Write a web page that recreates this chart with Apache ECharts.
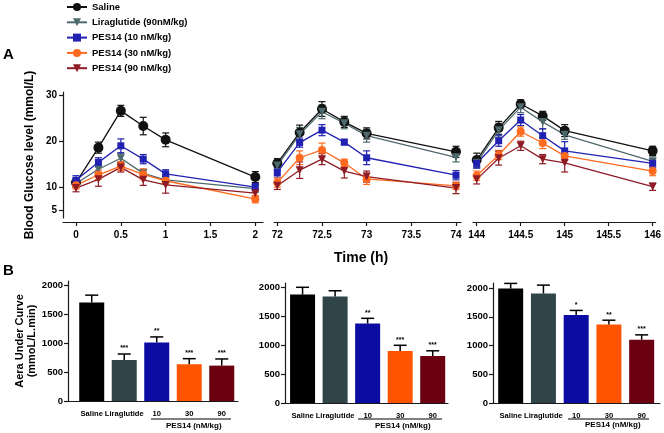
<!DOCTYPE html>
<html>
<head>
<meta charset="UTF-8">
<title>Blood glucose / AUC</title>
<script type="text/javascript" src="https://cdn.jsdelivr.net/npm/echarts/dist/echarts.min.js"></script>
<style>
  html, body { margin: 0; padding: 0; background: #fff; }
</style>
</head>
<body>
<div id="main" style="width: 664px; height: 433px;"></div>
<script type="text/javascript">
// ---- panel A data (blood glucose, mmol/L) ----
var groupNames = ['Saline', 'Liraglutide (90nM/kg)', 'PES14 (10 nM/kg)', 'PES14 (30 nM/kg)', 'PES14 (90 nM/kg)'];
var times1 = [0, 0.25, 0.5, 0.75, 1, 2];
var times2 = [72, 72.25, 72.5, 72.75, 73, 74];
var times3 = [144, 144.25, 144.5, 144.75, 145, 146];

var saline1 = [11.1, 18.7, 26.7, 23.4, 20.4, 12.3];
var saline2 = [15.3, 22.0, 27.1, 24.3, 21.8, 17.8];
var saline3 = [16.0, 23.0, 28.2, 25.6, 22.4, 18.0];
var lira1 = [10.9, 14.0, 16.4, 13.1, 11.7, 9.8];
var lira2 = [14.8, 21.6, 26.5, 24.0, 21.3, 16.6];
var lira3 = [15.4, 22.5, 27.5, 24.3, 21.5, 15.7];
var pes10_1 = [11.6, 15.5, 19.1, 16.2, 13.0, 10.1];
var pes10_2 = [13.3, 19.8, 22.5, 19.9, 16.5, 12.7];
var pes10_3 = [15.3, 20.2, 24.7, 21.3, 18.0, 15.3];
var pes30_1 = [10.5, 12.8, 14.7, 12.9, 11.5, 7.5];
var pes30_2 = [11.1, 16.5, 18.2, 15.4, 11.9, 10.4];
var pes30_3 = [12.6, 17.1, 22.2, 19.7, 16.9, 13.6];
var pes90_1 = [9.9, 11.8, 14.4, 11.7, 10.6, 8.8];
var pes90_2 = [10.4, 13.8, 16.2, 13.6, 12.4, 9.9];
var pes90_3 = [11.8, 16.4, 19.1, 16.2, 15.4, 10.2];

// SEM
var salineErr1 = [1.0, 1.2, 1.2, 1.9, 1.5, 1.2];
var salineErr2 = [1.0, 1.6, 1.6, 1.2, 1.2, 1.2];
var salineErr3 = [1.5, 1.4, 0.9, 1.0, 1.3, 1.0];
var liraErr1 = [0.8, 1.0, 1.0, 0.8, 0.8, 0.8];
var liraErr2 = [1.0, 1.5, 1.5, 1.2, 1.4, 1.0];
var liraErr3 = [1.2, 1.5, 1.2, 1.5, 1.0, 1.0];
var pes10Err1 = [1.0, 1.0, 1.5, 1.0, 0.9, 0.8];
var pes10Err2 = [1.0, 1.0, 1.2, 0.6, 1.5, 1.0];
var pes10Err3 = [1.0, 1.2, 1.2, 1.5, 2.0, 1.0];
var pes30Err1 = [0.8, 1.0, 1.0, 1.2, 0.8, 0.8];
var pes30Err2 = [1.0, 1.5, 1.5, 0.8, 1.2, 0.8];
var pes30Err3 = [1.0, 1.0, 1.0, 1.2, 1.0, 1.0];
var pes90Err1 = [0.8, 1.5, 1.0, 1.2, 1.8, 0.8];
var pes90Err2 = [0.8, 1.8, 1.2, 1.5, 1.2, 1.2];
var pes90Err3 = [1.0, 1.5, 1.0, 1.0, 2.0, 0.8];

var glucoseTicks = [5, 10, 20, 30];
var timeTicks1 = [0, 0.5, 1, 1.5, 2];
var timeTicks2 = [72, 72.5, 73, 73.5, 74];
var timeTicks3 = [144, 144.5, 145, 145.5, 146];

// ---- panel B data (AUC) ----
var barCategories = ['Saline', 'Liraglutide', '10', '30', '90'];
var auc1 = [1700, 705, 1010, 635, 610];
var auc2 = [1870, 1835, 1370, 895, 810];
var auc3 = [1990, 1905, 1530, 1365, 1100];
var aucErr1 = [125, 105, 95, 95, 115];
var aucErr2 = [125, 100, 90, 100, 90];
var aucErr3 = [90, 145, 80, 75, 85];
var aucSig1 = ['', '***', '**', '***', '***'];
var aucSig2 = ['', '', '**', '***', '***'];
var aucSig3 = ['', '', '*', '**', '***'];
var aucTicks = [0, 500, 1000, 1500, 2000];

var lineColors = ['#111111', '#4e696c', '#2222b2', '#ff6a1f', '#8e1b25'];
var lineSymbols = ['circle', 'triangle', 'rect', 'circle', 'triangle'];
var symbolRotates = [0, 180, 0, 0, 180];
var symbolSizes = [10, 8, 7, 8, 8];
var barColors = ['#000000', '#2f4549', '#0c0ca2', '#ff5500', '#6b0010'];

var FONT = 'Arial, "Liberation Sans", sans-serif';
var AX = '#1a1a1a';

var myChart = echarts.init(document.getElementById('main'));

var segTimes = [times1, times2, times3];
var segValues = [
    [saline1, lira1, pes10_1, pes30_1, pes90_1],
    [saline2, lira2, pes10_2, pes30_2, pes90_2],
    [saline3, lira3, pes10_3, pes30_3, pes90_3]
];
var segErrors = [
    [salineErr1, liraErr1, pes10Err1, pes30Err1, pes90Err1],
    [salineErr2, liraErr2, pes10Err2, pes30Err2, pes90Err2],
    [salineErr3, liraErr3, pes10Err3, pes30Err3, pes90Err3]
];

function glucoseErrRender(color) {
    return function (params, api) {
        var x = api.value(0), y = api.value(1), e = api.value(2);
        var hi = api.coord([x, y + e]);
        var lo = api.coord([x, y - e]);
        var w = 3.5;
        var st = { stroke: color, lineWidth: 1.2 };
        return {
            type: 'group',
            children: [
                { type: 'line', shape: { x1: hi[0], y1: hi[1], x2: lo[0], y2: lo[1] }, style: st },
                { type: 'line', shape: { x1: hi[0] - w, y1: hi[1], x2: hi[0] + w, y2: hi[1] }, style: st },
                { type: 'line', shape: { x1: lo[0] - w, y1: lo[1], x2: lo[0] + w, y2: lo[1] }, style: st }
            ]
        };
    };
}

function aucErrRender(sig) {
    return function (params, api) {
        var x = api.value(0), y = api.value(1), e = api.value(2);
        var base = api.coord([x, y]);
        var hi = api.coord([x, y + e]);
        var w = 6.5;
        var st = { stroke: '#000', lineWidth: 1.5 };
        return {
            type: 'group',
            children: [
                { type: 'line', shape: { x1: base[0], y1: base[1], x2: hi[0], y2: hi[1] }, style: st },
                { type: 'line', shape: { x1: hi[0] - w, y1: hi[1], x2: hi[0] + w, y2: hi[1] }, style: st },
                { type: 'text', x: hi[0], y: hi[1] - 2, style: {
                    text: sig[params.dataIndex], align: 'center', verticalAlign: 'bottom',
                    font: 'bold 7px ' + FONT, fill: '#000' } }
            ]
        };
    };
}

var series = [];
var errSeries = [];
for (var s = 0; s < 3; s++) {
    for (var g = 0; g < 5; g++) {
        var pts = segTimes[s].map(function (t, i) { return [t, segValues[s][g][i]]; });
        var errPts = segTimes[s].map(function (t, i) { return [t, segValues[s][g][i], segErrors[s][g][i]]; });
        series.push({
            name: groupNames[g], type: 'line', xAxisIndex: s, yAxisIndex: s,
            data: pts, symbol: lineSymbols[g], symbolSize: symbolSizes[g], symbolRotate: symbolRotates[g],
            lineStyle: { color: lineColors[g], width: 1.3 },
            itemStyle: { color: lineColors[g] },
            z: 4, animation: false
        });
        errSeries.push({
            name: groupNames[g], type: 'custom', xAxisIndex: s, yAxisIndex: s,
            data: errPts, renderItem: glucoseErrRender(lineColors[g]),
            itemStyle: { color: lineColors[g] }, z: 3, animation: false
        });
    }
}
series = series.concat(errSeries);

var aucSets = [[auc1, aucErr1, aucSig1], [auc2, aucErr2, aucSig2], [auc3, aucErr3, aucSig3]];
aucSets.forEach(function (set, k) {
    series.push({
        type: 'bar', xAxisIndex: 3 + k, yAxisIndex: 3 + k, barWidth: 25,
        data: set[0].map(function (v, i) { return { value: [i, v], itemStyle: { color: barColors[i] } }; }),
        animation: false
    });
    series.push({
        type: 'custom', xAxisIndex: 3 + k, yAxisIndex: 3 + k,
        data: set[0].map(function (v, i) { return [i, v, set[1][i]]; }),
        renderItem: aucErrRender(set[2]), z: 5, animation: false
    });
});

// common axis pieces
function timeAxis(idx, min, max, ticks) {
    return {
        type: 'value', gridIndex: idx, min: min, max: max, offset: 4,
        axisLine: { show: true, onZero: false, lineStyle: { color: AX, width: 1.2 } },
        axisTick: { show: true, length: 4, customValues: ticks, lineStyle: { color: AX, width: 1.2 } },
        axisLabel: { customValues: ticks, color: '#000', fontWeight: 'bold', fontSize: 10, fontFamily: FONT, margin: 8 },
        splitLine: { show: false }
    };
}
function glucoseAxis(idx, show) {
    var ax = {
        type: 'value', gridIndex: idx, min: 3.4, max: 30.8, show: show,
        axisLine: { show: true, onZero: false, lineStyle: { color: AX, width: 1.2 } },
        axisTick: { show: true, length: 4, customValues: glucoseTicks, lineStyle: { color: AX, width: 1.2 } },
        axisLabel: { customValues: glucoseTicks, color: '#000', fontWeight: 'bold', fontSize: 10, fontFamily: FONT, margin: 6 },
        splitLine: { show: false }
    };
    if (show) {
        ax.name = 'Blood Glucose level (mmol/L)';
        ax.nameLocation = 'middle';
        ax.nameGap = 27;
        ax.nameTextStyle = { color: '#000', fontWeight: 'bold', fontSize: 12, fontFamily: FONT };
    }
    return ax;
}
function groupAxis(idx, min, max) {
    return {
        type: 'value', gridIndex: idx, min: min, max: max,
        axisLine: { show: true, onZero: false, lineStyle: { color: AX, width: 1.2 } },
        axisTick: { show: false },
        axisLabel: {
            customValues: [0, 1, 2, 3, 4], color: '#000', fontWeight: 'bold', fontSize: 7.6, fontFamily: FONT, margin: 9,
            formatter: function (v) { return barCategories[Math.round(v)]; }
        },
        splitLine: { show: false }
    };
}
function aucAxis(idx, max, withName) {
    var ax = {
        type: 'value', gridIndex: idx, min: 0, max: max,
        axisLine: { show: true, onZero: false, lineStyle: { color: AX, width: 1.2 } },
        axisTick: { show: true, length: 4, customValues: aucTicks, lineStyle: { color: AX, width: 1.2 } },
        axisLabel: { customValues: aucTicks, color: '#000', fontWeight: 'bold', fontSize: 9.5, fontFamily: FONT, margin: 5,
            formatter: function (v) { return String(v); } },
        splitLine: { show: false }
    };
    if (withName) {
        ax.name = 'Aera Under Curve\n(mmoL/L.min)';
        ax.nameLocation = 'middle';
        ax.nameGap = 29;
        ax.nameTextStyle = { color: '#000', fontWeight: 'bold', fontSize: 11, lineHeight: 12, fontFamily: FONT };
    }
    return ax;
}

myChart.setOption({
    animation: false,
    legend: {
        data: groupNames, orient: 'vertical', left: 66, top: 2, padding: 0,
        itemWidth: 20, itemHeight: 10, itemGap: 5.3,
        textStyle: { color: '#000', fontWeight: 'bold', fontSize: 9.5, fontFamily: FONT }
    },
    grid: [
        { left: 63, top: 92, width: 200, height: 126 },
        { left: 274, top: 92, width: 187, height: 126 },
        { left: 473, top: 92, width: 185, height: 126 },
        { left: 68, top: 281, width: 170, height: 120 },
        { left: 285, top: 283, width: 163, height: 120 },
        { left: 493, top: 283, width: 167, height: 120 }
    ],
    xAxis: [
        timeAxis(0, -0.145, 2.086, timeTicks1),
        timeAxis(1, 71.963, 74.056, timeTicks2),
        timeAxis(2, 143.958, 146.034, timeTicks3),
        groupAxis(3, -0.73, 4.5),
        groupAxis(4, -0.54, 4.47),
        groupAxis(5, -0.54, 4.56)
    ],
    yAxis: [
        glucoseAxis(0, true),
        glucoseAxis(1, false),
        glucoseAxis(2, false),
        aucAxis(3, 2069, true),
        aucAxis(4, 2069, false),
        aucAxis(5, 2087, false)
    ],
    graphic: [
        { type: 'text', left: 3, top: 47, style: { text: 'A', font: 'bold 15px ' + FONT, fill: '#000' } },
        { type: 'text', left: 3, top: 263, style: { text: 'B', font: 'bold 15px ' + FONT, fill: '#000' } },
        { type: 'text', left: 334, top: 251, style: { text: 'Time (h)', font: 'bold 14px ' + FONT, fill: '#000' } },
        { type: 'line', shape: { x1: 151, y1: 419, x2: 231, y2: 419 }, style: { stroke: '#000', lineWidth: 1 } },
        { type: 'line', shape: { x1: 358, y1: 419, x2: 442, y2: 419 }, style: { stroke: '#000', lineWidth: 1 } },
        { type: 'line', shape: { x1: 568, y1: 419, x2: 649, y2: 419 }, style: { stroke: '#000', lineWidth: 1 } },
        { type: 'text', left: 166, top: 422, style: { text: 'PES14 (nM/kg)', font: 'bold 8px ' + FONT, fill: '#000' } },
        { type: 'text', left: 375, top: 422, style: { text: 'PES14 (nM/kg)', font: 'bold 8px ' + FONT, fill: '#000' } },
        { type: 'text', left: 585, top: 421, style: { text: 'PES14 (nM/kg)', font: 'bold 8px ' + FONT, fill: '#000' } }
    ],
    series: series
});
</script>
</body>
</html>
